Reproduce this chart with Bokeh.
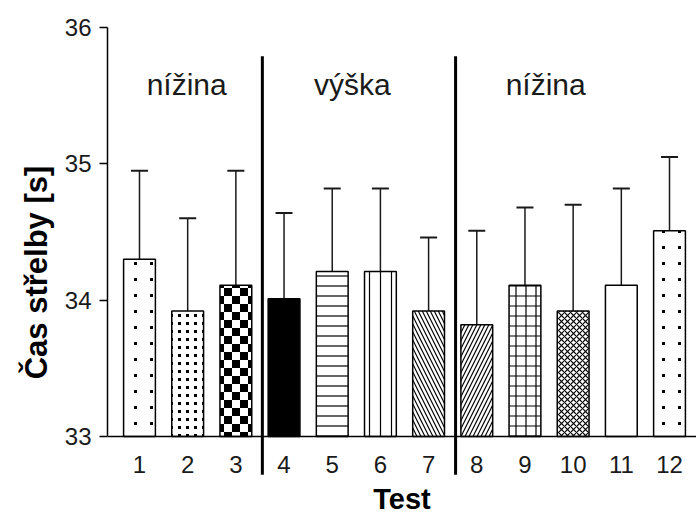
import base64
from bokeh.plotting import figure
from bokeh.core.properties import value
from bokeh.models import (ColumnDataSource, Whisker, TeeHead, Label, Span,
                          ImageURLTexture, FixedTicker, Range1d)
from bokeh.embed import file_html
from bokeh.resources import INLINE

# ---- data ----
tests = [1, 2, 3, 4, 5, 6, 7, 8, 9, 10, 11, 12]
tick_labels = ["1", "2", "3", "4", "5", "6", "7", "8", "9", "10", "11", "12"]
means = [34.30, 33.92, 34.11, 34.01, 34.21, 34.21, 33.92, 33.82, 34.11, 33.92, 34.11, 34.51]
sds = [0.65, 0.68, 0.84, 0.63, 0.61, 0.61, 0.54, 0.69, 0.57, 0.78, 0.71, 0.54]
y_ticks = [33, 34, 35, 36]
group_names = ["nížina", "výška", "nížina"]
y_title = "Čas střelby [s]"
x_title = "Test"

# ---- styles ----
FONT = "Liberation Sans"
INK = "#1a1a1a"
BASE = 33
X0, X1 = 0.336, 12.56


def tex(svg):
    return ImageURLTexture(url="data:image/svg+xml;base64," + base64.b64encode(svg.encode()).decode(),
                           repetition="repeat")


SVGH = '<svg xmlns="http://www.w3.org/2000/svg" width="{w}" height="{w}">{body}</svg>'
extra = {
    "dots16": tex(SVGH.format(w=16, body='<rect x="6" y="6" width="3" height="3" fill="black"/>')),
    "dots8": tex(SVGH.format(w=8, body='<rect x="2" y="2" width="3" height="3" fill="black"/>')),
    "checker": tex(SVGH.format(w=16, body='<rect x="0" y="0" width="8" height="8" fill="black"/>'
                                          '<rect x="8" y="8" width="8" height="8" fill="black"/>')),
}
patterns = ["dots16", "dots8", "checker", " ", "horizontal_line", "vertical_line",
            "left_diagonal_line", "right_diagonal_line", "cross", "diagonal_cross", " ", "dots16"]
scales = [16, 8, 16, 10, 10, 11, 8, 8, 10, 6, 10, 16]
fills = ["white", "white", "white", "black", "white", "white",
         "white", "white", "white", "white", "white", "white"]

src = ColumnDataSource(dict(
    x=tests, top=means, upper=[m + s for m, s in zip(means, sds)],
    pat=patterns, scl=scales, fc=fills,
))

# the frame runs to the bottom edge so separators, tick labels and title can sit under the axis
p = figure(width=696, height=517, x_range=Range1d(X0, X1), y_range=Range1d(32.406, 36),
           output_backend="svg", toolbar_location=None, x_axis_location=None,
           min_border_left=107, min_border_right=0, min_border_top=27, min_border_bottom=0)
p.outline_line_color = None
p.xgrid.visible = False
p.ygrid.visible = False
p.background_fill_color = "white"

p.vbar(x="x", top="top", bottom=BASE, width=0.66, source=src,
       fill_color="fc", line_color="black", line_width=1.5,
       hatch_pattern="pat", hatch_scale="scl", hatch_weight=1.2, hatch_color="black",
       hatch_extra=extra)

wh = Whisker(base="x", lower="top", upper="upper", source=src,
             upper_head=TeeHead(size=17, line_width=2, line_color=INK),
             lower_head=None, line_width=1.5, line_color=INK)
p.add_layout(wh)

# x axis line at 33
p.add_layout(Span(location=BASE, dimension="width", line_color="black", line_width=1.5))

# separators between conditions
p.segment(x0=[3.55, 7.56], y0=[35.79, 35.79], x1=[3.55, 7.56], y1=[32.72, 32.72],
          line_width=3, line_color="black")

# x tick labels
p.text(x=tests, y=[32.795] * len(tests), text=tick_labels, text_align="center",
       text_baseline="middle", text_font=value(FONT), text_font_size=value("24px"),
       text_color=INK)

# x title
p.add_layout(Label(x=(X0 + X1) / 2, y=32.54, text=x_title, text_align="center",
                   text_baseline="middle", text_font=FONT, text_font_size="29px",
                   text_font_style="bold", text_color="black"))

# group labels
for name, gx in zip(group_names, (1.98, 5.42, 9.43)):
    p.add_layout(Label(x=gx, y=35.58, text=name, text_align="center", text_baseline="alphabetic",
                       text_font=FONT, text_font_size="30px", text_color=INK))

# y axis
ya = p.yaxis[0]
ya.ticker = FixedTicker(ticks=y_ticks)
ya.bounds = (33, 36)
ya.major_tick_out = 8
ya.major_tick_in = 0
ya.minor_tick_out = 0
ya.minor_tick_in = 0
ya.axis_line_width = 1.5
ya.major_tick_line_width = 1.5
ya.axis_line_color = "black"
ya.major_tick_line_color = "black"
ya.major_label_text_font = FONT
ya.major_label_text_font_size = "24px"
ya.major_label_text_color = INK
ya.major_label_standoff = 8
ya.axis_label = y_title
ya.axis_label_text_font = FONT
ya.axis_label_text_font_style = "bold"
ya.axis_label_text_font_size = "31px"
ya.axis_label_text_color = "black"
ya.axis_label_standoff = 8

open("out.html", "w").write(file_html(p, INLINE))
